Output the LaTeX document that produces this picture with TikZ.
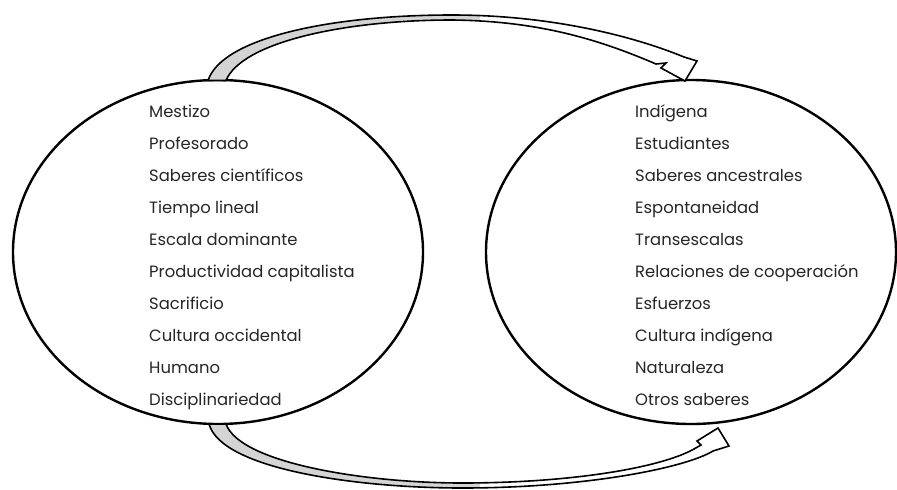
\documentclass[tikz,border=0pt]{standalone}
\usepackage{fontspec}
\setmainfont{Poppins}
\usepackage{tikz}
\usetikzlibrary{shapes.geometric}

\tikzset{
  group/.style={draw,ellipse,line width=2.4pt,fill=white,inner sep=0pt,outer sep=0pt,
    minimum width=410pt,minimum height=344pt},
  item/.style={anchor=base west,inner sep=0pt,font=\fontsize{16.4}{18}\selectfont,text=black!85},
  ribbon/.style={draw,line width=1.6pt,line join=miter,fill=white},
  under/.style={fill=black!17}
}

\begin{document}
\begin{tikzpicture}[x=1pt,y=-1pt]
\useasboundingbox (0,0) rectangle (897,490);
\node[group] (mestizo) at (218,252) {};
\node[group] (indigena) at (691,252) {};

\foreach \t [count=\i] in {Mestizo,Profesorado,Saberes científicos,Tiempo lineal,Escala dominante,
  Productividad capitalista,Sacrificio,Cultura occidental,Humano,Disciplinariedad}
  \node[item] (l\i) at (149,{117+32.1*(\i-1)}) {\t};
\foreach \t [count=\i] in {Indígena,Estudiantes,Saberes ancestrales,Espontaneidad,Transescalas,
  Relaciones de cooperación,Esfuerzos,Cultura indígena,Naturaleza,Otros saberes}
  \node[item] (r\i) at (635,{117+32.1*(\i-1)}) {\t};

\coordinate (topA) at (208,80.5);
\coordinate (topB) at (226,80.5);
\coordinate (topT) at (685,81);
\coordinate (botA) at (209,424);
\coordinate (botB) at (226,424);
\coordinate (botT) at (718,428);

\def\toprib{(topA) .. controls (222,38) and (330,15) .. (452,15)
  .. controls (545,15) and (628,34) .. (684,57) -- (697,61) -- (topT) -- (661,68) -- (666,63) -- (656,64)
  .. controls (600,40) and (540,21) .. (452,20) .. controls (345,20) and (242,42) .. (topB) -- cycle}
\def\botrib{(botA) .. controls (222,470) and (360,488) .. (462,488)
  .. controls (585,488) and (685,468) .. (713,451) -- (729,446) -- (botT) -- (697,441) -- (701,445) -- (694,449)
  .. controls (660,468) and (570,483) .. (462,483) .. controls (365,483) and (240,463) .. (botB) -- cycle}

\fill[white] \toprib;
\fill[white] \botrib;
\begin{scope}
\clip (0,0) rectangle (480,490);
\fill[under] \toprib;
\fill[under] \botrib;
\end{scope}
\draw[ribbon,fill=none] \toprib;
\draw[ribbon,fill=none] \botrib;
\end{tikzpicture}
\end{document}
